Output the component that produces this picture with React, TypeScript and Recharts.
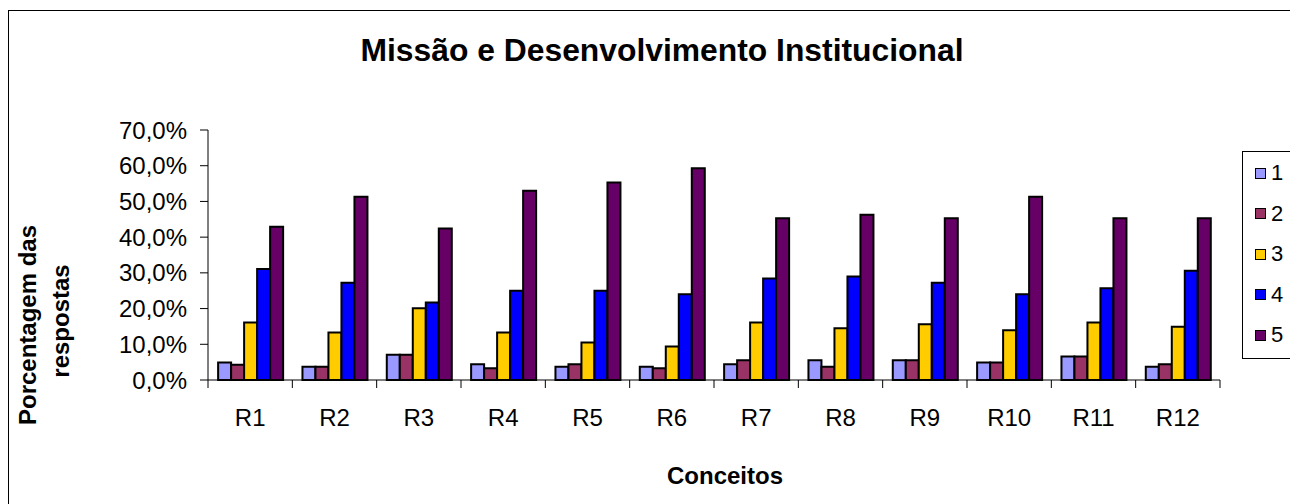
import { BarChart, Bar, XAxis, YAxis, Legend } from 'recharts';

const categories = ['R1', 'R2', 'R3', 'R4', 'R5', 'R6', 'R7', 'R8', 'R9', 'R10', 'R11', 'R12'];
const s1 = [4.9, 3.7, 7.1, 4.4, 3.7, 3.7, 4.4, 5.5, 5.5, 4.9, 6.6, 3.7];
const s2 = [4.3, 3.7, 7.1, 3.3, 4.4, 3.3, 5.5, 3.7, 5.5, 4.9, 6.6, 4.4];
const s3 = [16.1, 13.3, 20.1, 13.3, 10.5, 9.4, 16.1, 14.5, 15.6, 13.9, 16.1, 14.9];
const s4 = [31.1, 27.2, 21.7, 25.0, 25.0, 24.0, 28.4, 29.0, 27.2, 24.0, 25.7, 30.6];
const s5 = [42.9, 51.3, 42.4, 53.0, 55.3, 59.3, 45.3, 46.3, 45.3, 51.3, 45.3, 45.3];
const seriesNames = ['1', '2', '3', '4', '5'];
const yTicks = [0, 10, 20, 30, 40, 50, 60, 70];

const COLORS = ['#9999FF', '#993366', '#FFCC00', '#0000FF', '#660066'];
const FONT = '"Liberation Sans", Arial, Helvetica, sans-serif';

const data = categories.map((name, i) => ({
  name,
  s1: s1[i],
  s2: s2[i],
  s3: s3[i],
  s4: s4[i],
  s5: s5[i],
}));

const fmtPct = (v: number) => `${v.toFixed(1).replace('.', ',')}%`;

function CategoryTick(props: any) {
  const { x, y, payload, index } = props;
  const half = payload?.offset ?? 42.17;
  const last = index === categories.length - 1;
  return (
    <g>
      <line x1={x - half} y1={y - 8} x2={x - half} y2={y} stroke="#000" strokeWidth={1} />
      {last && <line x1={x + half} y1={y - 8} x2={x + half} y2={y} stroke="#000" strokeWidth={1} />}
      <text x={x} y={y + 38} textAnchor="middle" fontFamily={FONT} fontSize={24} fill="#000">
        {payload.value}
      </text>
    </g>
  );
}

function LegendBox(props: any) {
  const items = props.payload ?? [];
  return (
    <div
      style={{
        border: '1px solid #000',
        height: 208,
        width: 80,
        background: '#fff',
        boxSizing: 'border-box',
        paddingTop: 1,
      }}
    >
      {items.map((entry: any) => (
        <div key={entry.value} style={{ display: 'flex', alignItems: 'center', height: 40.5 }}>
          <span
            style={{
              width: 9,
              height: 9,
              marginLeft: 12,
              marginRight: 5,
              background: entry.color,
              border: '1.5px solid #000',
            }}
          />
          <span style={{ fontFamily: FONT, fontSize: 22, color: '#000' }}>{entry.value}</span>
        </div>
      ))}
    </div>
  );
}

export default function App() {
  return (
    <div style={{ position: 'fixed', left: 0, top: 0, width: 1290, height: 504, overflow: 'hidden', background: '#fff' }}>
      <div
        style={{
          position: 'absolute',
          left: 8,
          top: 10,
          width: 1400,
          height: 600,
          border: '1px solid #000',
        }}
      />
      <div style={{ position: 'absolute', left: 0, top: 0 }}>
        <BarChart
          width={1290}
          height={504}
          data={data}
          margin={{ top: 130, right: 70, bottom: 74, left: 0 }}
          barCategoryGap="12%"
          barGap={0}
        >
          <XAxis
            dataKey="name"
            height={50}
            tickSize={8}
            tickMargin={0}
            tickLine={false}
            axisLine={{ stroke: '#000', strokeWidth: 1 }}
            tick={<CategoryTick />}
            interval={0}
          />
          <YAxis
            width={208}
            domain={[0, 70]}
            ticks={yTicks}
            tickFormatter={fmtPct}
            tickSize={8}
            tickMargin={13}
            axisLine={{ stroke: '#000', strokeWidth: 1 }}
            tickLine={{ stroke: '#000', strokeWidth: 1 }}
            tick={{ fill: '#000', fontFamily: FONT, fontSize: 24 }}
          />
          <Legend
            layout="horizontal"
            align="center"
            verticalAlign="middle"
            content={<LegendBox />}
            wrapperStyle={{ position: 'absolute', left: 1242, top: 151, width: 80, height: 208 }}
          />
          {['s1', 's2', 's3', 's4', 's5'].map((k, i) => (
            <Bar
              key={k}
              dataKey={k}
              name={seriesNames[i]}
              fill={COLORS[i]}
              stroke="#000"
              strokeWidth={2}
              isAnimationActive={false}
            />
          ))}
        </BarChart>
      </div>
      <svg
        width={1290}
        height={504}
        style={{ position: 'absolute', left: 0, top: 0, pointerEvents: 'none' }}
      >
        <text
          x={662}
          y={61}
          textAnchor="middle"
          fontFamily={FONT}
          fontWeight="bold"
          fontSize={31}
          textLength={603}
          lengthAdjust="spacingAndGlyphs"
          fill="#000"
        >
          Missão e Desenvolvimento Institucional
        </text>
        <text
          transform="translate(36,325) rotate(-90)"
          textAnchor="middle"
          fontFamily={FONT}
          fontWeight="bold"
          fontSize={24}
          fill="#000"
        >
          Porcentagem das
        </text>
        <text
          transform="translate(69,321) rotate(-90)"
          textAnchor="middle"
          fontFamily={FONT}
          fontWeight="bold"
          fontSize={24}
          fill="#000"
        >
          respostas
        </text>
        <text x={725} y={484} textAnchor="middle" fontFamily={FONT} fontWeight="bold" fontSize={24} fill="#000">
          Conceitos
        </text>
      </svg>
    </div>
  );
}
